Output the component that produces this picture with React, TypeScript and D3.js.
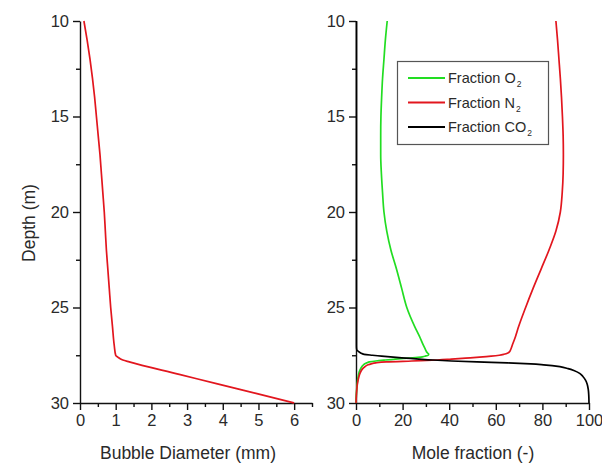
import React, { useRef, useEffect } from "react";
import * as d3 from "d3";

// left panel: bubble diameter (mm) vs depth (m)
const diameterDepth = [10, 11, 12, 13, 14, 15, 16, 17, 18, 19, 20, 21, 22, 23, 24, 25, 26, 27, 27.5, 27.6, 27.75, 27.85, 28.5, 29, 29.5, 30];
const diameterValues = [0.11, 0.2, 0.28, 0.35, 0.41, 0.46, 0.51, 0.56, 0.6, 0.64, 0.68, 0.71, 0.74, 0.78, 0.82, 0.86, 0.91, 0.96, 1.0, 1.06, 1.2, 1.38, 2.78, 3.85, 4.93, 6.0];

// right panel: mole fractions (%) vs depth (m)
const gasDepth = [10, 11, 12, 13, 14, 15, 16, 17, 18, 19, 20, 21, 22, 23, 24, 25, 26, 26.5, 27, 27.2, 27.3, 27.38, 27.45, 27.5, 27.55, 27.6, 27.65, 27.7, 27.75, 27.8, 27.85, 27.9, 27.95, 28.0, 28.1, 28.2, 28.3, 28.45, 28.6, 28.8, 29.0, 29.3, 29.6, 30];
const o2Values = [13.4, 12.6, 12.0, 11.4, 11.0, 10.7, 10.6, 10.6, 10.9, 11.4, 12.0, 13.2, 15.0, 17.4, 19.6, 21.8, 25.2, 27.2, 29.0, 29.8, 30.2, 30.7, 31.2, 31.0, 29.5, 27.8, 22.5, 17, 12.5, 8.5, 5.8, 4.6, 3.8, 3.2, 2.5, 2.0, 1.6, 1.2, 0.95, 0.7, 0.5, 0.3, 0.12, 0];
const n2Values = [85.8, 86.5, 87.1, 87.7, 88.2, 88.6, 88.9, 89.0, 88.9, 88.5, 87.7, 85.8, 82.8, 79.4, 76.0, 72.8, 69.8, 68.5, 67.0, 66.4, 66.0, 65.2, 63.5, 61.5, 58, 53, 47, 41, 35, 24, 13, 8.5, 6.5, 5.2, 3.8, 2.9, 2.3, 1.7, 1.3, 0.9, 0.6, 0.35, 0.15, 0];
const co2Values = [0.2, 0.2, 0.2, 0.2, 0.2, 0.2, 0.2, 0.2, 0.2, 0.2, 0.2, 0.2, 0.2, 0.2, 0.2, 0.2, 0.2, 0.2, 0.2, 0.3, 1.0, 2.0, 3.5, 7, 11, 16, 21.5, 27, 33, 41, 52, 65, 75, 80.5, 87.5, 91, 93.5, 96, 97.3, 98.5, 99.2, 99.7, 99.9, 100];

const depthTicks = [10, 15, 20, 25, 30];
const depthMinor = [12.5, 17.5, 22.5, 27.5];
const diameterTicks = [0, 1, 2, 3, 4, 5, 6];
const diameterMinor = [0.5, 1.5, 2.5, 3.5, 4.5, 5.5, 6.5];
const fractionTicks = [0, 20, 40, 60, 80, 100];
const fractionMinor = [10, 30, 50, 70, 90];

const series = [
  { name: "O", sub: "2", values: o2Values, color: "#22dd22" },
  { name: "N", sub: "2", values: n2Values, color: "#e2161e" },
  { name: "CO", sub: "2", values: co2Values, color: "#000000" },
];

const FONT = "'Liberation Sans', Arial, sans-serif";
const TEXT = "#2a2a2a";

export default function App() {
  const svgRef = useRef(null);

  useEffect(() => {
    const svg = d3.select(svgRef.current);
    svg.selectAll("*").remove();

    const y = d3.scaleLinear().domain([10, 30]).range([21, 403]);
    const xLeft = d3.scaleLinear().domain([0, 6.5]).range([80, 312]);
    const xRight = d3.scaleLinear().domain([0, 100]).range([356, 589]);

    const styleAxis = (g) => {
      g.selectAll("path, line").attr("stroke", "#111").attr("stroke-width", 1.4);
      g.selectAll("text").attr("font-family", FONT).attr("font-size", 16.5).attr("fill", TEXT);
    };

    const drawPanel = (x, xTicks, xMinor, yAxisX) => {
      svg.append("g")
        .attr("transform", `translate(${yAxisX},0)`)
        .call(d3.axisLeft(y).tickValues(depthTicks).tickSize(7).tickSizeOuter(0).tickPadding(4).tickFormat(d3.format("d")))
        .call(styleAxis);
      svg.append("g")
        .attr("transform", `translate(${yAxisX},0)`)
        .call(d3.axisLeft(y).tickValues(depthMinor).tickSize(4).tickSizeOuter(0).tickFormat(() => ""))
        .call(styleAxis)
        .select(".domain").remove();
      svg.append("g")
        .attr("transform", `translate(0,${y(30)})`)
        .call(d3.axisBottom(x).tickValues(xTicks).tickSize(7).tickSizeOuter(0).tickPadding(4).tickFormat(d3.format("d")))
        .call(styleAxis);
      svg.append("g")
        .attr("transform", `translate(0,${y(30)})`)
        .call(d3.axisBottom(x).tickValues(xMinor).tickSize(4).tickSizeOuter(0).tickFormat(() => ""))
        .call(styleAxis)
        .select(".domain").remove();
    };

    drawPanel(xLeft, diameterTicks, diameterMinor, 80);
    drawPanel(xRight, fractionTicks, fractionMinor, 356);

    // left curve
    const leftLine = d3.line()
      .x((d, i) => xLeft(diameterValues[i]))
      .y((d) => y(d))
      .curve(d3.curveMonotoneY);
    svg.append("path")
      .datum(diameterDepth)
      .attr("d", leftLine)
      .attr("fill", "none")
      .attr("stroke", "#e2161e")
      .attr("stroke-width", 1.7);

    // right curves
    series.forEach((s) => {
      const line = d3.line()
        .x((d, i) => xRight(s.values[i]))
        .y((d) => y(d))
        .curve(d3.curveMonotoneY);
      svg.append("path")
        .datum(gasDepth)
        .attr("d", line)
        .attr("fill", "none")
        .attr("stroke", s.color)
        .attr("stroke-width", 1.7);
    });

    // axis titles
    svg.append("text")
      .attr("transform", "translate(35,223) rotate(-90)")
      .attr("text-anchor", "middle")
      .attr("font-family", FONT).attr("font-size", 17.5).attr("fill", TEXT)
      .text("Depth (m)");
    svg.append("text")
      .attr("x", 188).attr("y", 459)
      .attr("text-anchor", "middle")
      .attr("font-family", FONT).attr("font-size", 17.5).attr("fill", TEXT)
      .text("Bubble Diameter (mm)");
    svg.append("text")
      .attr("x", 473).attr("y", 459)
      .attr("text-anchor", "middle")
      .attr("font-family", FONT).attr("font-size", 17.5).attr("fill", TEXT)
      .text("Mole fraction (-)");

    // legend
    const legend = svg.append("g");
    legend.append("rect")
      .attr("x", 397.5).attr("y", 61.5).attr("width", 151).attr("height", 83)
      .attr("fill", "white").attr("stroke", "#555").attr("stroke-width", 1.2);
    series.forEach((s, i) => {
      const cy = 78 + i * 24.5;
      legend.append("line")
        .attr("x1", 408).attr("x2", 445).attr("y1", cy).attr("y2", cy)
        .attr("stroke", s.color).attr("stroke-width", 2);
      const t = legend.append("text")
        .attr("x", 448).attr("y", cy + 5)
        .attr("font-family", FONT).attr("font-size", 14.5).attr("fill", TEXT);
      t.append("tspan").text(`Fraction ${s.name}`);
      t.append("tspan").attr("font-size", 8.5).attr("dx", 1).attr("dy", 4).text(s.sub);
    });
  }, []);

  return (
    <svg ref={svgRef} width={602} height={464} style={{ position: "absolute", left: 0, top: 0, background: "white" }}></svg>
  );
}
